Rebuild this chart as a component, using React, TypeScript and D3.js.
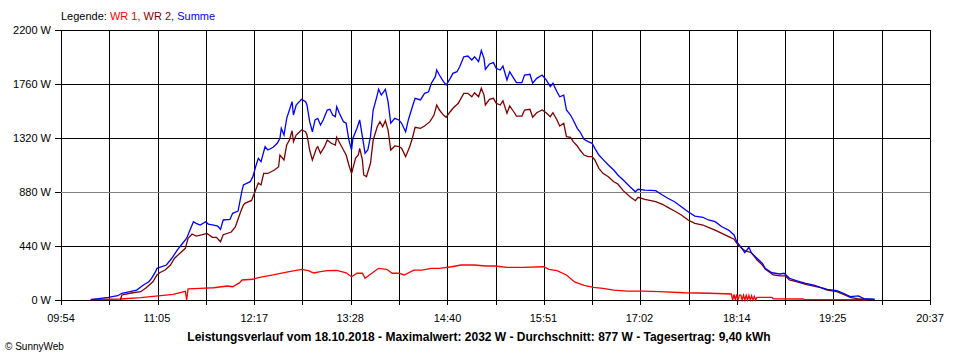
import React from "react";
import * as d3 from "d3";

type Pt = [string, number];

const legendLabel = "Legende: ";
const seriesNames = ["WR 1", "WR 2", "Summe"];
const seriesColors = ["#ff0000", "#800000", "#0000ff"];
const yTicks = [0, 440, 880, 1320, 1760, 2200];
const xTickLabels = ["09:54", "11:05", "12:17", "13:28", "14:40", "15:51", "17:02", "18:14", "19:25", "20:37"];
const average = 877;
const title =
  "Leistungsverlauf vom 18.10.2018 - Maximalwert: 2032 W - Durchschnitt: 877 W - Tagesertrag: 9,40 kWh";
const copyright = "© SunnyWeb";

const wr1: Pt[] = [
  ["10:16", 4], ["10:29", 6], ["10:38", 8], ["10:53", 19], ["11:06", 33], ["11:17", 46], ["11:26", 70],
  ["11:27", 0], ["11:28", 90], ["11:37", 95], ["11:47", 100], ["11:57", 114], ["12:01", 108], ["12:06", 139],
  ["12:08", 163], ["12:16", 169], ["12:21", 185], ["12:31", 204], ["12:41", 228], ["12:52", 250], ["12:57", 239],
  ["13:01", 220], ["13:06", 231], ["13:11", 239], ["13:18", 242], ["13:25", 222], ["13:29", 190], ["13:33", 218],
  ["13:37", 218], ["13:39", 177], ["13:44", 218], ["13:49", 258], ["13:55", 250], ["13:59", 218], ["14:04", 218],
  ["14:08", 204], ["14:15", 244], ["14:21", 244], ["14:28", 258], ["14:34", 258], ["14:43", 271], ["14:50", 285],
  ["15:00", 285], ["15:08", 277], ["15:15", 277], ["15:24", 266], ["15:36", 266], ["15:51", 271], ["15:55", 250],
  ["16:01", 239], ["16:08", 204], ["16:14", 147], ["16:21", 120], ["16:28", 103], ["16:35", 95], ["16:43", 81],
  ["16:53", 73], ["17:05", 73], ["17:17", 68], ["17:35", 59], ["17:54", 55], ["18:10", 49], ["18:11", 0],
  ["18:12", 45], ["18:13", 0], ["18:14", 45], ["18:15", 0], ["18:16", 40], ["18:17", 40], ["18:18", 0],
  ["18:19", 40], ["18:20", 0], ["18:21", 38], ["18:22", 0], ["18:23", 38], ["18:24", 0], ["18:25", 35],
  ["18:26", 0], ["18:27", 30], ["18:28", 0], ["18:29", 22], ["18:40", 22], ["18:41", 10], ["19:03", 8],
  ["19:04", 3], ["19:45", 3], ["19:50", 0],
];

const wr2: Pt[] = [
  ["10:38", 2], ["10:39", 41], ["10:45", 55], ["10:53", 68], ["10:57", 100], ["11:02", 149], ["11:05", 204],
  ["11:07", 222], ["11:11", 244], ["11:15", 285], ["11:18", 340], ["11:22", 381], ["11:26", 421], ["11:28", 503],
  ["11:31", 538], ["11:34", 521], ["11:38", 530], ["11:42", 543], ["11:46", 511], ["11:49", 511], ["11:52", 475],
  ["11:54", 532], ["12:00", 554], ["12:03", 595], ["12:07", 721], ["12:09", 774], ["12:10", 788], ["12:15", 811],
  ["12:18", 896], ["12:20", 953], ["12:22", 937], ["12:24", 1032], ["12:27", 1031], ["12:32", 1059], ["12:35", 1086],
  ["12:36", 1181], ["12:39", 1141], ["12:41", 1263], ["12:43", 1304], ["12:45", 1379], ["12:46", 1290],
  ["12:48", 1344], ["12:52", 1385], ["12:55", 1371], ["12:56", 1344], ["12:58", 1222], ["13:00", 1141],
  ["13:03", 1236], ["13:04", 1249], ["13:06", 1195], ["13:09", 1249], ["13:11", 1304], ["13:14", 1277],
  ["13:17", 1263], ["13:18", 1326], ["13:21", 1263], ["13:23", 1222], ["13:25", 1181], ["13:27", 1100],
  ["13:29", 1032], ["13:32", 1157], ["13:34", 1181], ["13:35", 1236], ["13:37", 1141], ["13:38", 1019],
  ["13:40", 1005], ["13:43", 1114], ["13:45", 1304], ["13:48", 1412], ["13:50", 1453], ["13:52", 1412],
  ["13:54", 1461], ["13:56", 1385], ["13:58", 1222], ["14:01", 1255], ["14:04", 1249], ["14:06", 1236],
  ["14:09", 1168], ["14:12", 1249], ["14:14", 1318], ["14:16", 1407], ["14:20", 1399], ["14:23", 1418],
  ["14:27", 1453], ["14:30", 1507], ["14:32", 1589], ["14:34", 1548], ["14:37", 1507], ["14:39", 1489],
  ["14:42", 1534], ["14:44", 1562], ["14:48", 1603], ["14:52", 1684], ["14:55", 1684], ["14:58", 1656],
  ["15:00", 1689], ["15:03", 1656], ["15:05", 1725], ["15:07", 1670], ["15:08", 1589], ["15:11", 1635],
  ["15:14", 1643], ["15:16", 1603], ["15:19", 1589], ["15:21", 1624], ["15:24", 1521], ["15:26", 1581],
  ["15:29", 1534], ["15:31", 1499], ["15:35", 1499], ["15:37", 1548], ["15:41", 1554], ["15:43", 1489],
  ["15:46", 1526], ["15:50", 1548], ["15:53", 1526], ["15:56", 1494], ["15:58", 1526], ["16:01", 1467],
  ["16:03", 1418], ["16:06", 1440], ["16:08", 1331], ["16:11", 1326], ["16:13", 1290], ["16:16", 1255],
  ["16:18", 1222], ["16:21", 1181], ["16:24", 1168], ["16:27", 1168], ["16:29", 1141], ["16:32", 1073],
  ["16:35", 1032], ["16:39", 1005], ["16:43", 964], ["16:46", 945], ["16:50", 891], ["16:55", 842],
  ["16:59", 809], ["17:01", 837], ["17:06", 820], ["17:14", 801], ["17:19", 780], ["17:23", 755],
  ["17:28", 725], ["17:33", 693], ["17:38", 652], ["17:43", 625], ["17:49", 611], ["17:53", 592],
  ["17:58", 570], ["18:03", 543], ["18:08", 516], ["18:12", 495], ["18:15", 448], ["18:20", 402],
  ["18:25", 385], ["18:29", 326], ["18:33", 285], ["18:35", 253], ["18:41", 204], ["18:46", 196],
  ["18:50", 196], ["18:53", 163], ["18:58", 149], ["19:05", 128], ["19:11", 114], ["19:16", 100],
  ["19:21", 81], ["19:28", 68], ["19:33", 46], ["19:38", 22], ["19:45", 8], ["19:56", 2],
];

const summe: Pt[] = [
  ["10:16", 2], ["10:29", 22], ["10:36", 35], ["10:39", 55], ["10:45", 68], ["10:50", 81], ["10:55", 122],
  ["10:59", 149], ["11:01", 177], ["11:04", 231], ["11:05", 258], ["11:07", 266], ["11:12", 285], ["11:16", 340],
  ["11:20", 407], ["11:23", 448], ["11:27", 503], ["11:30", 584], ["11:32", 638], ["11:34", 625], ["11:37", 611],
  ["11:41", 638], ["11:43", 619], ["11:47", 611], ["11:50", 603], ["11:52", 575], ["11:54", 652], ["11:59", 656],
  ["12:01", 706], ["12:05", 725], ["12:08", 896], ["12:09", 937], ["12:14", 964], ["12:16", 1005], ["12:18", 1086],
  ["12:20", 1155], ["12:22", 1127], ["12:25", 1249], ["12:27", 1222], ["12:31", 1244], ["12:34", 1277],
  ["12:36", 1318], ["12:37", 1399], ["12:39", 1344], ["12:41", 1480], ["12:43", 1548], ["12:45", 1616],
  ["12:46", 1507], ["12:48", 1589], ["12:52", 1635], ["12:55", 1616], ["12:56", 1589], ["12:58", 1453],
  ["13:00", 1371], ["13:02", 1467], ["13:04", 1480], ["13:06", 1426], ["13:08", 1467], ["13:11", 1548],
  ["13:13", 1554], ["13:15", 1507], ["13:17", 1494], ["13:18", 1575], ["13:20", 1521], ["13:23", 1453],
  ["13:25", 1440], ["13:27", 1304], ["13:29", 1222], ["13:30", 1318], ["13:33", 1399], ["13:35", 1467],
  ["13:37", 1331], ["13:39", 1195], ["13:41", 1222], ["13:43", 1331], ["13:45", 1548], ["13:48", 1670],
  ["13:49", 1717], ["13:51", 1670], ["13:54", 1717], ["13:56", 1616], ["13:58", 1440], ["14:01", 1480],
  ["14:04", 1467], ["14:06", 1440], ["14:09", 1371], ["14:11", 1467], ["14:14", 1575], ["14:16", 1643],
  ["14:20", 1630], ["14:23", 1684], ["14:26", 1697], ["14:28", 1766], ["14:31", 1820], ["14:32", 1874],
  ["14:34", 1833], ["14:37", 1779], ["14:39", 1752], ["14:42", 1806], ["14:44", 1847], ["14:47", 1860],
  ["14:49", 1901], ["14:52", 1982], ["14:55", 1988], ["14:58", 1956], ["15:00", 1982], ["15:03", 1942],
  ["15:05", 2032], ["15:07", 1969], ["15:08", 1880], ["15:11", 1923], ["15:14", 1934], ["15:16", 1888],
  ["15:19", 1874], ["15:21", 1907], ["15:24", 1793], ["15:26", 1860], ["15:29", 1806], ["15:31", 1771],
  ["15:35", 1771], ["15:37", 1833], ["15:41", 1839], ["15:43", 1766], ["15:46", 1806], ["15:50", 1833],
  ["15:53", 1793], ["15:56", 1738], ["15:58", 1766], ["16:01", 1697], ["16:03", 1656], ["16:06", 1670],
  ["16:08", 1548], ["16:11", 1507], ["16:13", 1467], ["16:16", 1399], ["16:18", 1371], ["16:21", 1309],
  ["16:24", 1290], ["16:27", 1277], ["16:29", 1236], ["16:32", 1181], ["16:35", 1146], ["16:39", 1100],
  ["16:43", 1059], ["16:46", 1019], ["16:50", 978], ["16:55", 923], ["16:59", 882], ["17:01", 902],
  ["17:06", 896], ["17:14", 891], ["17:19", 856], ["17:23", 829], ["17:28", 801], ["17:33", 760],
  ["17:38", 719], ["17:43", 684], ["17:49", 674], ["17:53", 652], ["17:58", 638], ["18:03", 597],
  ["18:08", 570], ["18:12", 530], ["18:14", 475], ["18:16", 448], ["18:20", 385], ["18:23", 429],
  ["18:25", 381], ["18:29", 340], ["18:33", 299], ["18:35", 258], ["18:40", 222], ["18:46", 212],
  ["18:49", 218], ["18:53", 177], ["18:58", 157], ["19:05", 136], ["19:11", 122], ["19:16", 103],
  ["19:21", 87], ["19:28", 76], ["19:33", 55], ["19:38", 27], ["19:44", 33], ["19:48", 11], ["19:56", 6],
];

const seriesData: Pt[][] = [wr1, wr2, summe];

const FONT = "'Liberation Sans', Arial, sans-serif";

export default function App() {
  const width = 960;
  const height = 360;
  const left = 61;
  const right = 930;
  const top = 30;
  const bottom = 300;

  const parse = d3.timeParse("%H:%M");
  const t0 = parse(xTickLabels[0]) as Date;
  const t1 = parse(xTickLabels[xTickLabels.length - 1]) as Date;
  const x = d3.scaleTime().domain([t0, t1]).range([left, right]);
  const y = d3.scaleLinear().domain([0, 2200]).range([bottom, top]);
  const snap = (v: number) => Math.round(v) + 0.5;

  const nGrid = (xTickLabels.length - 1) * 2;
  const gridTimes = d3.range(nGrid + 1).map((i) => new Date(+t0 + (i * (+t1 - +t0)) / nGrid));

  const line = d3
    .line<Pt>()
    .x((d) => x(parse(d[0]) as Date))
    .y((d) => y(d[1]));

  const drawOrder = [0, 1, 2];

  return (
    <svg
      width={width}
      height={height}
      style={{ position: "absolute", left: 0, top: 0, background: "#fff" }}
      fontFamily={FONT}
    >
      <rect x={0} y={0} width={width} height={height} fill="#fff" />
      <text x={61} y={20} fontSize={11}>
        <tspan fill="#000">{legendLabel}</tspan>
        {seriesNames.map((n, i) => (
          <tspan key={n} fill={seriesColors[i]}>
            {n + (i < seriesNames.length - 1 ? ", " : "")}
          </tspan>
        ))}
      </text>
      <g shapeRendering="crispEdges">
        {gridTimes.map((t, i) => (
          <line key={"v" + i} x1={snap(x(t))} x2={snap(x(t))} y1={top} y2={bottom + 5} stroke="#000" strokeWidth={1} />
        ))}
        {yTicks.map((v) => (
          <line key={"h" + v} x1={left - 6} x2={right} y1={snap(y(v))} y2={snap(y(v))} stroke="#000" strokeWidth={1} />
        ))}
        <line x1={left} x2={right} y1={snap(y(average))} y2={snap(y(average))} stroke="#808080" strokeWidth={1} />
      </g>
      {yTicks.map((v) => (
        <text key={"yl" + v} x={51} y={y(v) + 4} fontSize={11} textAnchor="end" fill="#000">
          {v + " W"}
        </text>
      ))}
      {xTickLabels.map((l) => (
        <text key={"xl" + l} x={x(parse(l) as Date)} y={322} fontSize={11} textAnchor="middle" fill="#000">
          {l}
        </text>
      ))}
      {drawOrder.map((i) => (
        <path key={"s" + i} d={line(seriesData[i]) || ""} fill="none" stroke={seriesColors[i]} strokeWidth={1.3} />
      ))}
      <text x={479} y={341} fontSize={12} fontWeight="bold" textAnchor="middle" fill="#000">
        {title}
      </text>
      <text x={5} y={350} fontSize={10} fill="#000">
        {copyright}
      </text>
    </svg>
  );
}
